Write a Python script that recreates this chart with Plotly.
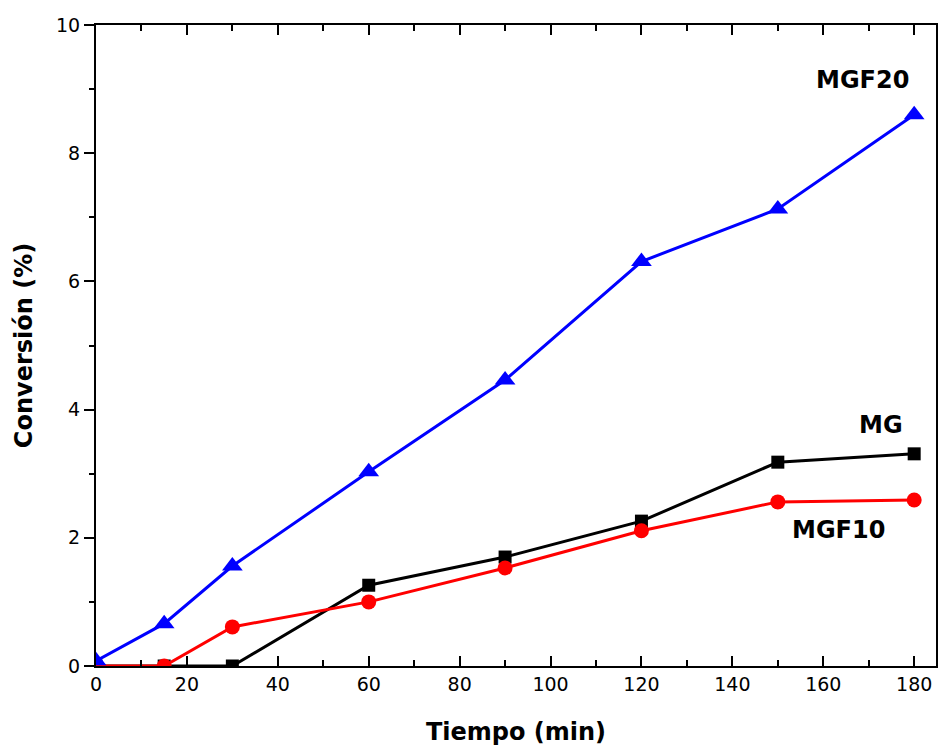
import plotly.graph_objects as go

tiempo = [0, 15, 30, 60, 90, 120, 150, 180]
mg = [0, 0, 0, 1.26, 1.70, 2.26, 3.18, 3.31]
mgf10 = [0, 0, 0.61, 1.00, 1.53, 2.11, 2.56, 2.59]
mgf20 = [0.08, 0.66, 1.56, 3.03, 4.46, 6.31, 7.13, 8.60]

labels = ["MGF20", "MG", "MGF10"]
label_x = [168.6, 172.8, 163.3]
label_y = [9.14, 3.76, 2.12]

fig = go.Figure()
fig.add_trace(go.Scatter(x=tiempo, y=mg, mode="lines+markers", name="MG",
                         line=dict(color="black", width=3),
                         marker=dict(symbol="square", size=13, color="black")))
fig.add_trace(go.Scatter(x=tiempo, y=mgf10, mode="lines+markers", name="MGF10",
                         line=dict(color="red", width=3),
                         marker=dict(symbol="circle", size=15, color="red")))
fig.add_trace(go.Scatter(x=tiempo, y=mgf20, mode="lines+markers", name="MGF20",
                         line=dict(color="blue", width=3),
                         marker=dict(symbol="triangle-up", size=18, color="blue")))

for t, x, y in zip(labels, label_x, label_y):
    fig.add_annotation(x=x, y=y, text="<b>%s</b>" % t, showarrow=False,
                       font=dict(family="DejaVu Sans", size=24, color="black"),
                       xanchor="center", yanchor="middle")

fig.update_layout(
    width=938, height=747,
    margin=dict(l=96, r=2, t=25, b=81, autoexpand=False),
    paper_bgcolor="white", plot_bgcolor="white",
    showlegend=False,
    font=dict(family="DejaVu Sans", size=19, color="black"),
)
fig.update_xaxes(
    range=[0, 184.8], tickmode="linear", tick0=0, dtick=20,
    showgrid=False, zeroline=False, automargin=False,
    showline=True, linecolor="black", linewidth=2, mirror="ticks",
    ticks="inside", ticklen=10, tickwidth=2, tickcolor="black",
    minor=dict(ticks="inside", ticklen=6, tickwidth=2, dtick=10, tickcolor="black", showgrid=False),
    tickfont=dict(size=19),
    title=dict(text="<b>Tiempo (min)</b>", font=dict(size=24), standoff=29),
)
fig.update_yaxes(
    range=[0, 10], tickmode="linear", tick0=0, dtick=2,
    showgrid=False, zeroline=False, automargin=False,
    showline=True, linecolor="black", linewidth=2, mirror=True,
    ticks="outside", ticklen=10, tickwidth=2, tickcolor="black",
    minor=dict(ticks="outside", ticklen=5, tickwidth=2, dtick=1, tickcolor="black", showgrid=False),
    tickfont=dict(size=19),
    title=dict(text="<b>Conversión (%)</b>", font=dict(size=24), standoff=17),
)

fig.write_html("out.html", config={"displayModeBar": False},
               post_script="document.body.style.margin='0';document.body.style.overflow='hidden';")
